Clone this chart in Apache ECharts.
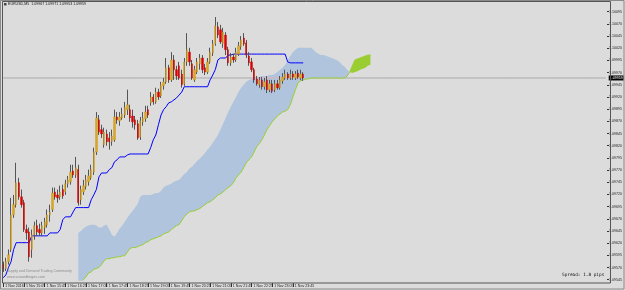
<!DOCTYPE html>
<html><head><meta charset="utf-8">
<script src="https://cdn.jsdelivr.net/npm/echarts@6/dist/echarts.min.js"></script>
<style>html,body{margin:0;padding:0;background:#dcdcdc}#c{width:625px;height:290px}</style>
</head><body><div id="c"></div>
<script>
const symbolName = 'EURUSD,M5';
const timeLabels = ['1 Nov 2016','1 Nov 15:05','1 Nov 15:45','1 Nov 16:25','1 Nov 17:05','1 Nov 17:45','1 Nov 18:25','1 Nov 19:05','1 Nov 19:45','1 Nov 20:25','1 Nov 21:05','1 Nov 21:45','1 Nov 22:25','1 Nov 23:05','1 Nov 23:45'];
const barsPerLabel = 8;
const totalSlots = 234;
const yMin = 1.09545, yMax = 1.10095, yStep = 0.00025;
// [open, close, low, high]
const candles = [
[1.09576,1.09568,1.09561,1.09582],[1.09568,1.09582,1.09563,1.09590],[1.09582,1.09596,1.09576,1.09607],[1.09607,1.09678,1.09602,1.09713],
[1.09678,1.09699,1.09672,1.09719],[1.09699,1.09744,1.09693,1.09785],[1.09744,1.09715,1.09709,1.09754],[1.09715,1.09699,1.09693,1.09730],
[1.09703,1.09648,1.09643,1.09709],[1.09648,1.09641,1.09627,1.09658],[1.09643,1.09592,1.09582,1.09652],[1.09607,1.09637,1.09590,1.09648],
[1.09637,1.09656,1.09627,1.09664],[1.09656,1.09643,1.09635,1.09668],[1.09648,1.09641,1.09635,1.09660],[1.09641,1.09656,1.09635,1.09664],
[1.09652,1.09664,1.09639,1.09672],[1.09658,1.09678,1.09652,1.09689],[1.09678,1.09684,1.09664,1.09699],[1.09689,1.09723,1.09684,1.09734],
[1.09725,1.09715,1.09709,1.09734],[1.09719,1.09713,1.09703,1.09730],[1.09715,1.09725,1.09709,1.09738],[1.09730,1.09717,1.09711,1.09740],
[1.09725,1.09742,1.09719,1.09750],[1.09742,1.09750,1.09734,1.09758],[1.09746,1.09766,1.09740,1.09781],[1.09768,1.09760,1.09754,1.09781],
[1.09760,1.09775,1.09754,1.09797],[1.09771,1.09703,1.09697,1.09781],[1.09709,1.09730,1.09699,1.09738],[1.09725,1.09738,1.09719,1.09750],
[1.09736,1.09750,1.09730,1.09760],[1.09746,1.09758,1.09738,1.09771],[1.09754,1.09771,1.09750,1.09781],[1.09766,1.09807,1.09760,1.09816],
[1.09807,1.09877,1.09801,1.09889],[1.09873,1.09848,1.09842,1.09883],[1.09853,1.09844,1.09836,1.09863],[1.09822,1.09848,1.09816,1.09857],
[1.09844,1.09828,1.09820,1.09853],[1.09836,1.09828,1.09812,1.09848],[1.09828,1.09840,1.09820,1.09853],[1.09832,1.09879,1.09828,1.09894],
[1.09879,1.09873,1.09865,1.09889],[1.09871,1.09879,1.09861,1.09889],[1.09877,1.09885,1.09873,1.09898],[1.09883,1.09898,1.09877,1.09910],
[1.09894,1.09904,1.09883,1.09935],[1.09894,1.09877,1.09869,1.09904],[1.09881,1.09869,1.09857,1.09894],[1.09873,1.09863,1.09853,1.09881],
[1.09865,1.09836,1.09832,1.09873],[1.09838,1.09871,1.09832,1.09879],[1.09869,1.09877,1.09861,1.09889],[1.09875,1.09889,1.09869,1.09902],
[1.09894,1.09883,1.09877,1.09902],[1.09908,1.09920,1.09902,1.09930],[1.09920,1.09910,1.09904,1.09926],[1.09910,1.09930,1.09906,1.09939],
[1.09930,1.09920,1.09914,1.09937],[1.09922,1.09945,1.09918,1.09951],[1.09943,1.09951,1.09935,1.09959],[1.09951,1.09980,1.09947,1.10000],
[1.09980,1.09955,1.09949,1.09986],[1.09955,1.09996,1.09951,1.10012],[1.09996,1.09976,1.09955,1.10006],[1.09976,1.09963,1.09955,1.09984],
[1.09984,1.09959,1.09955,1.09992],[1.09967,1.09945,1.09939,1.09976],[1.09947,1.09992,1.09943,1.10000],[1.09992,1.10017,1.09984,1.10051],
[1.10012,1.09992,1.09984,1.10021],[1.09988,1.09959,1.09955,1.09996],[1.09955,1.09976,1.09951,1.09984],[1.09971,1.09992,1.09967,1.10000],
[1.09988,1.10000,1.09976,1.10008],[1.10000,1.09976,1.09969,1.10006],[1.09980,1.09971,1.09965,1.09988],[1.09971,1.09992,1.09967,1.10000],
[1.09992,1.10012,1.09988,1.10021],[1.10010,1.10029,1.10004,1.10037],[1.10029,1.10066,1.10025,1.10084],[1.10064,1.10047,1.10041,1.10074],
[1.10058,1.10033,1.10029,1.10068],[1.10029,1.10053,1.10021,1.10062],[1.10047,1.10017,1.10006,1.10053],[1.10017,1.09990,1.09984,1.10023],
[1.09990,1.10002,1.09984,1.10010],[1.10002,1.09996,1.09990,1.10008],[1.09996,1.10012,1.09992,1.10021],[1.10008,1.10025,1.10004,1.10033],
[1.10023,1.10037,1.10017,1.10045],[1.10041,1.10029,1.10025,1.10051],[1.10031,1.10006,1.10000,1.10037],[1.10004,1.09990,1.09984,1.10012],
[1.09992,1.09976,1.09971,1.10000],[1.09976,1.09955,1.09949,1.09980],[1.09957,1.09947,1.09943,1.09963],[1.09945,1.09955,1.09939,1.09961],
[1.09955,1.09941,1.09935,1.09961],[1.09941,1.09951,1.09935,1.09959],[1.09955,1.09935,1.09928,1.09963],[1.09935,1.09947,1.09930,1.09955],
[1.09947,1.09932,1.09928,1.09955],[1.09935,1.09947,1.09930,1.09955],[1.09947,1.09939,1.09935,1.09955],[1.09939,1.09955,1.09935,1.09963],
[1.09953,1.09961,1.09947,1.09969],[1.09959,1.09967,1.09955,1.09976],[1.09967,1.09959,1.09955,1.09971],[1.09959,1.09967,1.09955,1.09976],
[1.09967,1.09961,1.09955,1.09973],[1.09959,1.09967,1.09955,1.09973],[1.09969,1.09961,1.09957,1.09976],[1.09959,1.09967,1.09955,1.09976],
[1.09967,1.09959,1.09953,1.09971]
];
const kijun = [
1.09549,1.09555,1.09570,1.09582,1.09607,1.09621,1.09621,1.09621,1.09621,1.09621,1.09621,
1.09635,1.09635,1.09635,1.09635,1.09635,1.09635,1.09635,1.09641,1.09641,1.09641,1.09641,
1.09648,1.09668,1.09674,1.09674,1.09674,1.09684,1.09693,1.09693,1.09693,1.09693,1.09693,1.09693,
1.09709,1.09719,1.09730,1.09756,1.09764,1.09764,1.09764,1.09771,1.09775,1.09787,1.09791,
1.09797,1.09797,1.09797,1.09801,1.09803,1.09803,1.09803,1.09803,1.09803,1.09803,1.09803,1.09803,
1.09816,1.09832,1.09842,1.09863,1.09883,1.09894,1.09900,1.09908,1.09910,1.09914,1.09918,1.09924,1.09930,
1.09941,1.09941,1.09941,1.09941,1.09941,1.09941,1.09941,1.09941,1.09941,1.09941,
1.09955,1.09965,1.09976,1.09996,1.10000,1.10000,1.10000,1.10006,1.10006,
1.10008,1.10008,1.10008,1.10008,1.10008,1.10008,1.10008,1.10008,1.10008,1.10008,1.10008,
1.10008,1.10008,1.10008,1.10008,1.10008,1.10008,1.10008,1.10008,1.10008,1.10008,
1.09992,1.09990,1.09990,1.09990,1.09990,1.09990,1.09990
];
const cloudStart = 29;
const spanA = [
1.09641,1.09645,1.09650,1.09654,1.09656,1.09658,1.09658,1.09656,1.09652,1.09652,1.09656,1.09658,1.09648,1.09637,1.09633,1.09641,
1.09650,1.09656,1.09664,1.09672,1.09680,1.09686,1.09693,1.09701,1.09715,1.09719,1.09719,1.09719,1.09719,1.09721,1.09723,1.09723,
1.09727,1.09734,1.09738,1.09740,1.09742,1.09746,1.09748,1.09750,1.09756,1.09762,1.09766,1.09773,1.09777,1.09783,1.09789,1.09793,
1.09799,1.09805,1.09812,1.09818,1.09826,1.09834,1.09842,1.09853,1.09865,1.09877,1.09889,1.09900,1.09910,1.09920,1.09930,1.09939,
1.09945,1.09951,1.09955,1.09957,1.09959,1.09961,1.09961,1.09963,1.09963,1.09963,1.09965,1.09965,1.09967,1.09971,1.09976,1.09980,
1.09986,1.09996,1.10004,1.10012,1.10017,1.10021,1.10021,1.10021,1.10021,1.10021,1.10021,1.10017,1.10012,1.10008,1.10006,1.10006,
1.10004,1.10002,1.10000,1.09998,1.09996,1.09992,1.09986,1.09982,1.09976,1.09971,1.09969,1.09971,1.09973,1.09976,1.09978,1.09980,
1.09984,1.09986
];
const spanB = [
1.09531,1.09537,1.09545,1.09551,1.09559,1.09561,1.09566,1.09568,1.09570,1.09576,1.09584,1.09588,1.09588,1.09590,1.09590,1.09592,
1.09592,1.09594,1.09594,1.09602,1.09609,1.09611,1.09611,1.09613,1.09615,1.09617,1.09621,1.09623,1.09627,1.09629,1.09631,1.09633,
1.09635,1.09639,1.09641,1.09643,1.09648,1.09652,1.09656,1.09658,1.09666,1.09674,1.09680,1.09684,1.09686,1.09686,1.09689,1.09691,
1.09695,1.09699,1.09703,1.09705,1.09709,1.09713,1.09719,1.09721,1.09725,1.09730,1.09734,1.09738,1.09744,1.09754,1.09760,1.09766,
1.09775,1.09785,1.09791,1.09797,1.09807,1.09818,1.09824,1.09832,1.09842,1.09853,1.09861,1.09869,1.09875,1.09881,1.09885,1.09889,
1.09891,1.09894,1.09904,1.09920,1.09935,1.09949,1.09953,1.09955,1.09957,1.09957,1.09959,1.09959,1.09959,1.09959,1.09959,1.09959,
1.09959,1.09959,1.09959,1.09959,1.09959,1.09959,1.09959,1.09959,1.09963,1.09971,1.09984,1.09996,1.09998,1.10000,1.10002,1.10004,
1.10006,1.10006
];
const askSegment = [98, 116];
const spreadText = 'Spread: 1.8 pips';
const watermarkLines = ['Supply and Demand Trading Community', 'www.sasandforges.com'];

const slots = Array.from({length: totalSlots}, (_, i) => String(i));
const baseData = new Array(totalSlots).fill(null);
const blueData = new Array(totalSlots).fill(null);
const greenData = new Array(totalSlots).fill(null);
const spanBLine = new Array(totalSlots).fill(null);
spanA.forEach((a, k) => {
  const b = spanB[k], j = cloudStart + k;
  baseData[j] = Math.min(a, b);
  blueData[j] = a > b ? +(a - b).toFixed(5) : 0;
  greenData[j] = b > a ? +(b - a).toFixed(5) : 0;
  spanBLine[j] = b;
});
const bodies = candles.map(c => [c[0], c[1], Math.min(c[0], c[1]), Math.max(c[0], c[1])]);
const last = candles[candles.length - 1];
const lastClose = last[1];
const titleText = symbolName + '  ' + [last[0], last[3], last[2], last[1]].map(v => v.toFixed(5)).join(' ');
const isLabelSlot = i => i % barsPerLabel === 0 && i / barsPerLabel < timeLabels.length;
const bidLine = new Array(totalSlots).fill(lastClose);
const askLine = new Array(totalSlots).fill(null);
for (let i = askSegment[0]; i <= askSegment[1]; i++) askLine[i] = lastClose;

const chart = echarts.init(document.getElementById('c'), null, {renderer: 'canvas'});
const small = 'Liberation Sans';
chart.setOption({
  animation: false,
  backgroundColor: '#dcdcdc',
  grid: {left: 2, right: 15, top: 11.7, bottom: 10.3, containLabel: false},
  xAxis: {
    type: 'category', data: slots, boundaryGap: true, offset: 3.3,
    axisLine: {show: false},
    axisTick: {show: true, alignWithLabel: true, interval: (i) => isLabelSlot(i), length: 4, lineStyle: {color: '#333', width: 1}},
    axisLabel: {interval: (i) => isLabelSlot(i), formatter: (v) => timeLabels[Number(v) / barsPerLabel] || '',
      align: 'left', fontSize: 3.6, margin: 1, color: '#222', fontFamily: small, padding: [0, 0, 0, 2]},
    splitLine: {show: false}
  },
  yAxis: {
    type: 'value', position: 'right', min: yMin, max: yMax, interval: yStep, scale: true,
    axisLine: {show: false},
    axisTick: {show: true, length: 2, lineStyle: {color: '#333'}},
    splitLine: {show: false},
    axisLabel: {fontSize: 3.6, color: '#222', margin: 2, fontFamily: small, formatter: v => v.toFixed(5)}
  },
  series: [
    {name: 'bid', type: 'line', data: bidLine, symbol: 'none', lineStyle: {color: '#a8a8a8', width: 1}, z: 0, silent: true,
      endLabel: {show: true, formatter: lastClose.toFixed(5), backgroundColor: '#000', color: '#fff', fontSize: 3.6, fontFamily: small, padding: [1, 1, 0, 1], distance: 3}},
    {name: 'cloudBase', type: 'line', data: baseData, stack: 'cloud', symbol: 'none', lineStyle: {opacity: 0}, z: 1, silent: true},
    {name: 'cloudBull', type: 'line', data: blueData, stack: 'cloud', symbol: 'none', lineStyle: {opacity: 0}, areaStyle: {color: '#b0c4de', opacity: 1}, z: 1, silent: true},
    {name: 'cloudBear', type: 'line', data: greenData, stack: 'cloud', symbol: 'none', lineStyle: {opacity: 0}, areaStyle: {color: '#9acd32', opacity: 1}, z: 1, silent: true},
    {name: 'spanB', type: 'line', data: spanBLine, symbol: 'none', lineStyle: {color: '#9acd32', width: 1}, z: 2, silent: true},
    {name: 'ask', type: 'line', data: askLine, symbol: 'none', lineStyle: {color: '#e6b0b0', width: 1}, z: 2, silent: true},
    {name: 'kijun', type: 'line', data: kijun, symbol: 'none', lineStyle: {color: '#0000ff', width: 1}, z: 3, silent: true},
    {name: 'wicks', type: 'candlestick', data: candles, barWidth: 1, z: 4,
      itemStyle: {color: '#555', color0: '#555', borderColor: '#555', borderColor0: '#555', borderWidth: 1}},
    {name: 'bodies', type: 'candlestick', data: bodies, barWidth: 1.8, z: 5,
      itemStyle: {color: '#daa520', color0: '#e00000', borderColor: '#c8961a', borderColor0: '#c80000', borderWidth: 0.4}}
  ],
  graphic: [
    {type: 'rect', shape: {x: 2.5, y: 1.5, width: 608, height: 281.5}, style: {fill: 'none', stroke: '#555', lineWidth: 1}, z: 100, silent: true},
    {type: 'rect', shape: {x: 0.5, y: 0.5, width: 623.5, height: 288.5}, style: {fill: 'none', stroke: '#8a8a8a', lineWidth: 1}, z: 100, silent: true},
    {type: 'rect', shape: {x: 4, y: 3, width: 2.5, height: 2.5}, style: {fill: '#444'}, z: 100, silent: true},
    {type: 'text', x: 8, y: 2.2, style: {text: titleText, fontSize: 3.6, fontFamily: small, fill: '#111'}, z: 100, silent: true},
    {type: 'text', x: 7, y: 269, style: {text: watermarkLines[0], fontSize: 3.6, fontFamily: small, fill: '#8c8c8c'}, z: 100, silent: true},
    {type: 'text', x: 7, y: 275, style: {text: watermarkLines[1], fontSize: 3.6, fontFamily: small, fill: '#8c8c8c'}, z: 100, silent: true},
    {type: 'text', x: 562, y: 273, style: {text: spreadText, fontSize: 4.4, fontFamily: 'DejaVu Sans Mono', fill: '#111'}, z: 100, silent: true}
  ]
});
</script></body></html>
